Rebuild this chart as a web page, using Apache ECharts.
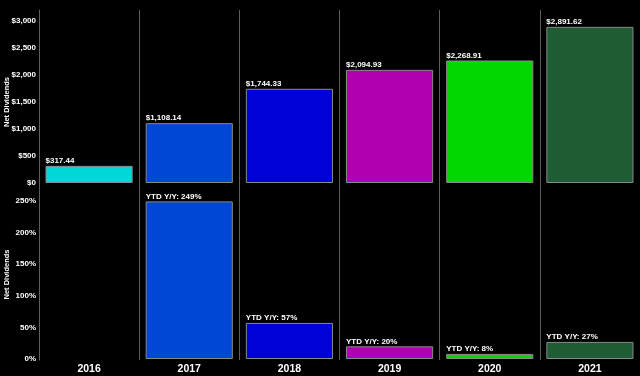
<!DOCTYPE html>
<html>
<head>
<meta charset="utf-8">
<script src="https://cdn.jsdelivr.net/npm/echarts@6/dist/echarts.min.js"></script>
<style>
  html, body { margin: 0; padding: 0; background: #000; }
  #chart { width: 640px; height: 376px; }
</style>
</head>
<body>
<div id="chart"></div>
<script>
var years = ['2016', '2017', '2018', '2019', '2020', '2021'];
var netDividends = [317.44, 1108.14, 1744.33, 2094.93, 2268.91, 2891.62];
var ytdGrowth = [null, 249, 57, 20, 8, 27];
var barColors = ['#00d8d8', '#0047d6', '#0000d8', '#b000b0', '#00d800', '#1e5c34'];

var font = 'Liberation Sans';
var myChart = echarts.init(document.getElementById('chart'));

function money(v) {
  return '$' + v.toLocaleString('en-US', { minimumFractionDigits: 2, maximumFractionDigits: 2 });
}

var option = {
  backgroundColor: '#000',
  animation: false,
  textStyle: { fontFamily: font },
  grid: [
    { left: 39, right: 0, top: 10, bottom: 16, outerBoundsMode: 'none', containLabel: false },   // frame with separators
    { left: 39, right: 0, top: 21, bottom: 193, outerBoundsMode: 'none', containLabel: false },  // dollars
    { left: 39, right: 0, top: 190, bottom: 17, outerBoundsMode: 'none', containLabel: false }   // y/y %
  ],
  xAxis: [
    {
      gridIndex: 0, type: 'category', data: years,
      axisLine: { show: false }, axisTick: { show: false },
      axisLabel: { color: '#fff', fontWeight: 'bold', fontSize: 10.5, margin: 4, fontFamily: font },
      splitLine: { show: true, lineStyle: { color: '#5e5e5e', width: 1 } }
    },
    { gridIndex: 1, type: 'category', data: years, show: false },
    { gridIndex: 2, type: 'category', data: years, show: false }
  ],
  yAxis: [
    {
      gridIndex: 0, type: 'value', min: 0, max: 1,
      axisLine: { show: true, lineStyle: { color: '#5e5e5e' } },
      axisLabel: { show: false }, axisTick: { show: false }, splitLine: { show: false }
    },
    {
      gridIndex: 1, type: 'value', min: 0, max: 3000, interval: 500,
      name: 'Net Dividends', nameLocation: 'middle', nameGap: 28, nameMoveOverlap: false,
      nameTextStyle: { color: '#fff', fontSize: 7.5, fontWeight: 'bold', fontFamily: font },
      axisLine: { show: false }, axisTick: { show: false }, splitLine: { show: false },
      axisLabel: {
        color: '#fff', fontSize: 8, fontWeight: 'bold', margin: 3, fontFamily: font,
        formatter: function (v) { return '$' + v.toLocaleString('en-US'); }
      }
    },
    {
      gridIndex: 2, type: 'value', min: 0, max: 267, interval: 50,
      name: 'Net Dividends', nameLocation: 'middle', nameGap: 28, nameMoveOverlap: false,
      nameTextStyle: { color: '#fff', fontSize: 7.5, fontWeight: 'bold', fontFamily: font },
      axisLine: { show: false }, axisTick: { show: false }, splitLine: { show: false },
      axisLabel: {
        color: '#fff', fontSize: 8, fontWeight: 'bold', margin: 3, showMaxLabel: false, fontFamily: font,
        formatter: '{value}%'
      }
    }
  ],
  series: [
    {
      type: 'bar', xAxisIndex: 1, yAxisIndex: 1, barCategoryGap: '13%',
      data: netDividends.map(function (v, i) {
        return { value: v, itemStyle: { color: barColors[i] } };
      }),
      itemStyle: { borderColor: '#8a8a8a', borderWidth: 1 },
      label: {
        show: true, position: [0, -1], align: 'left', verticalAlign: 'bottom',
        color: '#fff', fontSize: 8, fontWeight: 'bold', fontFamily: font,
        formatter: function (p) { return money(p.value); }
      }
    },
    {
      type: 'bar', xAxisIndex: 2, yAxisIndex: 2, barCategoryGap: '13%',
      data: ytdGrowth.map(function (v, i) {
        return { value: v, itemStyle: { color: barColors[i] } };
      }),
      itemStyle: { borderColor: '#8a8a8a', borderWidth: 1 },
      label: {
        show: true, position: [0, -1], align: 'left', verticalAlign: 'bottom',
        color: '#fff', fontSize: 8, fontWeight: 'bold', fontFamily: font,
        formatter: function (p) { return 'YTD Y/Y: ' + p.value + '%'; }
      }
    }
  ]
};

myChart.setOption(option);
</script>
</body>
</html>
